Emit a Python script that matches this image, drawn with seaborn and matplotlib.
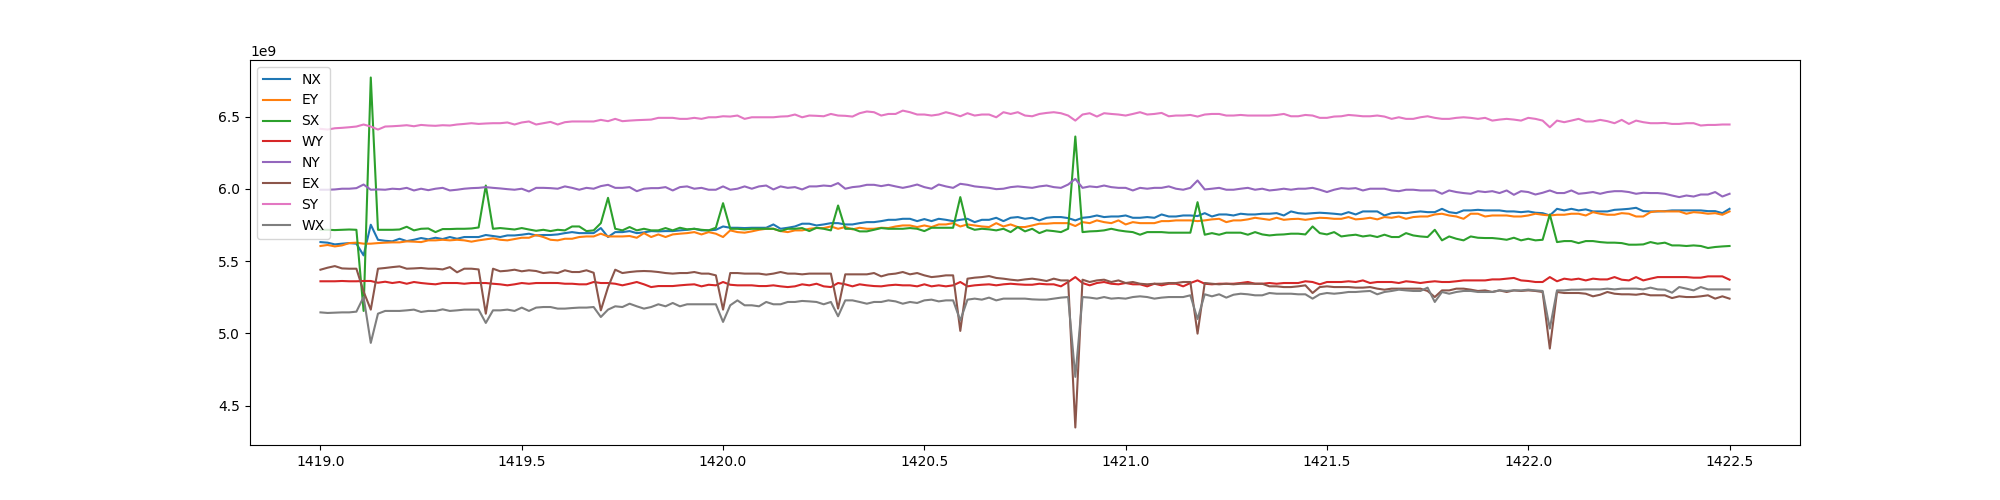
import numpy as np
import pandas as pd
import matplotlib
matplotlib.use("Agg")
import matplotlib.pyplot as plt
import seaborn as sns

labels = ['NX', 'EY', 'SX', 'WY', 'NY', 'EX', 'SY', 'WX']

# readings in units of 1e9, evenly sampled from 1419.0 to 1422.5
nx = [5.632, 5.628, 5.616, 5.621, 5.625, 5.621, 5.540, 5.752, 5.648, 5.641, 5.637, 5.655, 5.639, 5.648, 5.660, 5.651, 5.662, 5.653, 5.667, 5.655, 5.667, 5.667, 5.667, 5.681, 5.674, 5.667, 5.678, 5.678, 5.683, 5.690, 5.678, 5.681, 5.681,
      5.685, 5.694, 5.701, 5.694, 5.694, 5.694, 5.729, 5.667, 5.701, 5.701, 5.708, 5.694, 5.699, 5.708, 5.706, 5.708, 5.708, 5.713, 5.717, 5.724, 5.713, 5.713, 5.717, 5.740, 5.731, 5.731, 5.729, 5.731, 5.731, 5.731, 5.754, 5.724, 5.731,
      5.740, 5.759, 5.759, 5.747, 5.754, 5.763, 5.763, 5.754, 5.754, 5.763, 5.770, 5.770, 5.777, 5.786, 5.786, 5.793, 5.793, 5.777, 5.791, 5.777, 5.793, 5.786, 5.777, 5.786, 5.793, 5.770, 5.786, 5.786, 5.800, 5.777, 5.800, 5.805,
      5.793, 5.800, 5.782, 5.800, 5.805, 5.805, 5.798, 5.782, 5.800, 5.805, 5.816, 5.805, 5.809, 5.809, 5.816, 5.800, 5.800, 5.805, 5.800, 5.823, 5.809, 5.809, 5.816, 5.816, 5.812, 5.832, 5.809, 5.823, 5.823, 5.816, 5.828, 5.823, 5.823,
      5.828, 5.828, 5.832, 5.816, 5.844, 5.832, 5.828, 5.832, 5.835, 5.832, 5.828, 5.823, 5.839, 5.823, 5.844, 5.844, 5.844, 5.816, 5.832, 5.835, 5.832, 5.839, 5.844, 5.839, 5.839, 5.862, 5.839, 5.832, 5.851, 5.851, 5.855, 5.851, 5.851,
      5.851, 5.844, 5.844, 5.839, 5.844, 5.835, 5.832, 5.816, 5.862, 5.851, 5.862, 5.851, 5.858, 5.844, 5.844, 5.844, 5.855, 5.858, 5.862, 5.869, 5.846, 5.844, 5.844, 5.846, 5.851, 5.851, 5.851, 5.851, 5.851, 5.846, 5.846, 5.832, 5.862]

ey = [5.605, 5.612, 5.602, 5.609, 5.625, 5.628, 5.621, 5.621, 5.625, 5.628, 5.630, 5.630, 5.637, 5.635, 5.632, 5.644, 5.644, 5.648, 5.644, 5.648, 5.644, 5.635, 5.644, 5.651, 5.658, 5.648, 5.644, 5.653, 5.662, 5.662, 5.681, 5.667, 5.648,
      5.644, 5.655, 5.655, 5.667, 5.671, 5.671, 5.690, 5.671, 5.671, 5.671, 5.674, 5.662, 5.694, 5.667, 5.685, 5.667, 5.685, 5.690, 5.694, 5.701, 5.685, 5.701, 5.690, 5.667, 5.713, 5.701, 5.697, 5.706, 5.717, 5.724, 5.724, 5.708, 5.701,
      5.713, 5.713, 5.724, 5.729, 5.729, 5.740, 5.724, 5.736, 5.720, 5.731, 5.724, 5.724, 5.731, 5.729, 5.740, 5.747, 5.747, 5.736, 5.747, 5.736, 5.754, 5.754, 5.763, 5.740, 5.754, 5.747, 5.740, 5.736, 5.763, 5.740, 5.754, 5.736,
      5.736, 5.747, 5.759, 5.759, 5.763, 5.763, 5.763, 5.743, 5.770, 5.763, 5.782, 5.770, 5.763, 5.782, 5.754, 5.770, 5.763, 5.763, 5.763, 5.777, 5.777, 5.782, 5.782, 5.782, 5.777, 5.782, 5.789, 5.793, 5.770, 5.782, 5.782, 5.789, 5.800,
      5.793, 5.786, 5.800, 5.786, 5.791, 5.793, 5.786, 5.793, 5.800, 5.798, 5.793, 5.793, 5.805, 5.789, 5.793, 5.800, 5.789, 5.805, 5.800, 5.809, 5.793, 5.805, 5.809, 5.809, 5.823, 5.828, 5.816, 5.809, 5.793, 5.828, 5.828, 5.809, 5.816,
      5.816, 5.816, 5.809, 5.809, 5.816, 5.828, 5.821, 5.816, 5.821, 5.821, 5.828, 5.828, 5.816, 5.839, 5.828, 5.821, 5.821, 5.832, 5.828, 5.809, 5.809, 5.839, 5.846, 5.844, 5.844, 5.844, 5.828, 5.839, 5.835, 5.828, 5.832, 5.821, 5.844]

sx = [5.717, 5.717, 5.715, 5.717, 5.719, 5.717, 5.156, 6.770, 5.717, 5.717, 5.717, 5.719, 5.738, 5.713, 5.724, 5.726, 5.701, 5.722, 5.722, 5.724, 5.724, 5.726, 5.733, 6.023, 5.724, 5.729, 5.724, 5.719, 5.729, 5.719, 5.710, 5.717, 5.708,
      5.717, 5.713, 5.740, 5.740, 5.708, 5.713, 5.763, 5.938, 5.724, 5.713, 5.736, 5.713, 5.724, 5.713, 5.713, 5.729, 5.713, 5.731, 5.720, 5.724, 5.717, 5.713, 5.731, 5.901, 5.724, 5.724, 5.720, 5.724, 5.724, 5.724, 5.724, 5.708, 5.724,
      5.724, 5.729, 5.708, 5.731, 5.724, 5.713, 5.885, 5.724, 5.724, 5.706, 5.706, 5.717, 5.729, 5.724, 5.724, 5.724, 5.729, 5.724, 5.708, 5.731, 5.731, 5.731, 5.731, 5.943, 5.736, 5.717, 5.724, 5.720, 5.713, 5.724, 5.701, 5.736,
      5.706, 5.724, 5.694, 5.713, 5.708, 5.701, 5.724, 6.362, 5.701, 5.706, 5.708, 5.713, 5.724, 5.713, 5.706, 5.701, 5.683, 5.701, 5.701, 5.701, 5.697, 5.697, 5.697, 5.697, 5.908, 5.683, 5.694, 5.683, 5.697, 5.697, 5.697, 5.683, 5.701,
      5.685, 5.678, 5.683, 5.685, 5.690, 5.690, 5.685, 5.740, 5.694, 5.685, 5.701, 5.671, 5.678, 5.683, 5.671, 5.678, 5.667, 5.683, 5.667, 5.667, 5.694, 5.678, 5.671, 5.667, 5.717, 5.644, 5.671, 5.655, 5.644, 5.671, 5.662, 5.660, 5.660,
      5.655, 5.648, 5.662, 5.644, 5.655, 5.644, 5.648, 5.823, 5.632, 5.639, 5.639, 5.625, 5.639, 5.639, 5.632, 5.628, 5.628, 5.625, 5.614, 5.614, 5.616, 5.632, 5.621, 5.628, 5.609, 5.609, 5.605, 5.609, 5.605, 5.591, 5.598, 5.602, 5.605]

wy = [5.361, 5.361, 5.361, 5.363, 5.361, 5.361, 5.363, 5.363, 5.351, 5.358, 5.349, 5.356, 5.344, 5.356, 5.349, 5.344, 5.340, 5.349, 5.349, 5.349, 5.344, 5.349, 5.349, 5.349, 5.344, 5.340, 5.333, 5.340, 5.349, 5.344, 5.349, 5.349, 5.349,
      5.349, 5.344, 5.344, 5.340, 5.340, 5.356, 5.349, 5.349, 5.344, 5.333, 5.344, 5.356, 5.340, 5.321, 5.328, 5.328, 5.328, 5.333, 5.337, 5.340, 5.326, 5.337, 5.333, 5.356, 5.337, 5.333, 5.333, 5.333, 5.328, 5.328, 5.333, 5.326, 5.321,
      5.326, 5.340, 5.333, 5.344, 5.326, 5.321, 5.349, 5.340, 5.326, 5.340, 5.333, 5.328, 5.326, 5.333, 5.337, 5.333, 5.333, 5.326, 5.340, 5.326, 5.333, 5.326, 5.333, 5.356, 5.326, 5.333, 5.337, 5.340, 5.333, 5.340, 5.344, 5.340,
      5.337, 5.337, 5.344, 5.340, 5.340, 5.326, 5.356, 5.390, 5.349, 5.333, 5.349, 5.356, 5.344, 5.340, 5.349, 5.340, 5.340, 5.326, 5.344, 5.333, 5.344, 5.344, 5.326, 5.349, 5.367, 5.344, 5.340, 5.344, 5.344, 5.344, 5.349, 5.356, 5.344,
      5.344, 5.349, 5.344, 5.349, 5.349, 5.349, 5.361, 5.356, 5.340, 5.356, 5.356, 5.356, 5.361, 5.356, 5.367, 5.349, 5.356, 5.356, 5.356, 5.349, 5.361, 5.356, 5.349, 5.356, 5.361, 5.356, 5.356, 5.361, 5.367, 5.367, 5.367, 5.367, 5.374,
      5.374, 5.379, 5.384, 5.367, 5.363, 5.356, 5.356, 5.390, 5.361, 5.379, 5.372, 5.379, 5.367, 5.379, 5.374, 5.374, 5.390, 5.372, 5.367, 5.390, 5.367, 5.379, 5.390, 5.390, 5.390, 5.390, 5.390, 5.386, 5.386, 5.395, 5.395, 5.395, 5.372]

ny = [5.994, 5.994, 5.996, 6.001, 6.001, 6.005, 6.030, 5.994, 5.996, 5.994, 6.001, 5.998, 6.007, 5.989, 6.001, 5.991, 6.001, 6.007, 5.989, 5.994, 6.001, 6.005, 6.007, 6.012, 6.007, 6.003, 5.998, 5.994, 6.001, 5.982, 6.007, 6.007, 6.005,
      6.001, 6.017, 6.007, 5.994, 6.007, 6.001, 6.019, 6.028, 6.007, 6.007, 6.012, 5.984, 6.001, 6.005, 6.005, 6.012, 5.989, 6.012, 6.017, 6.001, 6.007, 5.994, 5.994, 6.017, 5.994, 6.001, 6.017, 6.001, 6.017, 6.023, 5.996, 6.017, 6.007,
      6.012, 5.996, 6.017, 6.017, 6.023, 6.019, 6.040, 6.001, 6.012, 6.017, 6.028, 6.028, 6.019, 6.028, 6.017, 6.007, 6.017, 6.030, 6.012, 6.001, 6.030, 6.017, 6.007, 6.035, 6.028, 6.017, 6.012, 6.007, 5.998, 6.001, 6.012, 6.017,
      6.012, 6.007, 6.017, 6.023, 6.012, 6.007, 6.030, 6.069, 6.007, 6.017, 6.012, 6.023, 6.012, 6.007, 6.007, 5.989, 6.007, 6.001, 6.007, 6.007, 6.017, 6.001, 5.994, 6.007, 6.058, 5.996, 6.001, 6.007, 5.994, 5.994, 6.001, 6.007, 5.994,
      6.001, 5.989, 5.994, 6.001, 5.994, 6.001, 6.001, 6.007, 5.994, 5.978, 5.994, 6.005, 6.001, 6.005, 5.989, 6.001, 6.001, 6.001, 5.989, 5.984, 5.994, 5.994, 5.989, 5.989, 5.989, 5.966, 5.989, 5.978, 5.971, 5.966, 5.984, 5.978, 5.984,
      5.971, 5.989, 5.959, 5.984, 5.978, 5.961, 5.973, 5.989, 5.971, 5.971, 5.989, 5.966, 5.971, 5.978, 5.966, 5.978, 5.984, 5.984, 5.978, 5.966, 5.973, 5.971, 5.971, 5.966, 5.954, 5.943, 5.954, 5.947, 5.961, 5.961, 5.978, 5.947, 5.966]

ex = [5.441, 5.455, 5.466, 5.450, 5.448, 5.448, 5.290, 5.165, 5.448, 5.453, 5.459, 5.464, 5.448, 5.450, 5.453, 5.448, 5.448, 5.443, 5.459, 5.423, 5.448, 5.448, 5.443, 5.137, 5.448, 5.430, 5.434, 5.441, 5.430, 5.437, 5.432, 5.418, 5.423,
      5.418, 5.437, 5.425, 5.425, 5.437, 5.420, 5.160, 5.320, 5.441, 5.418, 5.425, 5.430, 5.432, 5.430, 5.425, 5.418, 5.414, 5.418, 5.418, 5.425, 5.414, 5.414, 5.402, 5.165, 5.418, 5.418, 5.414, 5.414, 5.414, 5.407, 5.414, 5.425, 5.414,
      5.414, 5.409, 5.414, 5.414, 5.414, 5.414, 5.172, 5.409, 5.409, 5.409, 5.409, 5.418, 5.395, 5.409, 5.414, 5.425, 5.409, 5.418, 5.402, 5.390, 5.395, 5.402, 5.402, 5.018, 5.379, 5.386, 5.390, 5.397, 5.384, 5.379, 5.372, 5.367,
      5.374, 5.379, 5.372, 5.363, 5.379, 5.367, 5.367, 4.350, 5.372, 5.356, 5.367, 5.372, 5.356, 5.367, 5.349, 5.356, 5.344, 5.340, 5.344, 5.344, 5.349, 5.349, 5.356, 5.356, 4.999, 5.349, 5.344, 5.340, 5.344, 5.340, 5.344, 5.344, 5.344,
      5.344, 5.326, 5.326, 5.321, 5.321, 5.326, 5.333, 5.280, 5.321, 5.326, 5.321, 5.321, 5.321, 5.317, 5.317, 5.321, 5.310, 5.303, 5.310, 5.310, 5.310, 5.310, 5.310, 5.294, 5.252, 5.298, 5.298, 5.310, 5.310, 5.303, 5.294, 5.298, 5.287,
      5.298, 5.287, 5.298, 5.294, 5.298, 5.294, 5.287, 4.896, 5.287, 5.280, 5.280, 5.280, 5.275, 5.257, 5.268, 5.287, 5.275, 5.271, 5.271, 5.268, 5.275, 5.264, 5.264, 5.264, 5.245, 5.257, 5.252, 5.252, 5.257, 5.264, 5.241, 5.257, 5.241]

sy = [6.415, 6.410, 6.419, 6.422, 6.426, 6.431, 6.445, 6.431, 6.410, 6.431, 6.433, 6.436, 6.440, 6.433, 6.442, 6.438, 6.436, 6.440, 6.438, 6.445, 6.449, 6.454, 6.449, 6.452, 6.454, 6.454, 6.459, 6.445, 6.459, 6.466, 6.445, 6.454, 6.463,
      6.445, 6.461, 6.466, 6.466, 6.466, 6.466, 6.477, 6.468, 6.484, 6.468, 6.472, 6.475, 6.477, 6.479, 6.491, 6.491, 6.491, 6.484, 6.484, 6.491, 6.484, 6.495, 6.495, 6.502, 6.500, 6.507, 6.484, 6.495, 6.495, 6.495, 6.495, 6.500, 6.502,
      6.514, 6.495, 6.507, 6.505, 6.502, 6.518, 6.507, 6.505, 6.500, 6.523, 6.535, 6.530, 6.507, 6.518, 6.518, 6.541, 6.530, 6.514, 6.514, 6.507, 6.514, 6.530, 6.518, 6.502, 6.523, 6.507, 6.514, 6.514, 6.495, 6.530, 6.518, 6.530,
      6.507, 6.502, 6.518, 6.525, 6.530, 6.523, 6.507, 6.472, 6.514, 6.523, 6.500, 6.523, 6.518, 6.514, 6.507, 6.518, 6.530, 6.514, 6.518, 6.525, 6.502, 6.507, 6.507, 6.511, 6.500, 6.514, 6.518, 6.518, 6.507, 6.507, 6.511, 6.507, 6.507,
      6.507, 6.507, 6.511, 6.518, 6.502, 6.502, 6.511, 6.507, 6.491, 6.491, 6.500, 6.502, 6.511, 6.507, 6.502, 6.502, 6.507, 6.500, 6.484, 6.495, 6.484, 6.484, 6.495, 6.502, 6.491, 6.484, 6.484, 6.491, 6.495, 6.491, 6.484, 6.491, 6.472,
      6.479, 6.484, 6.479, 6.472, 6.491, 6.484, 6.472, 6.426, 6.472, 6.461, 6.472, 6.484, 6.466, 6.466, 6.477, 6.468, 6.454, 6.477, 6.449, 6.472, 6.461, 6.454, 6.454, 6.456, 6.449, 6.449, 6.454, 6.454, 6.438, 6.442, 6.442, 6.445, 6.445]

wx = [5.146, 5.142, 5.144, 5.146, 5.146, 5.151, 5.252, 4.935, 5.137, 5.156, 5.156, 5.156, 5.160, 5.165, 5.149, 5.156, 5.156, 5.167, 5.156, 5.160, 5.165, 5.165, 5.165, 5.073, 5.160, 5.160, 5.165, 5.156, 5.179, 5.156, 5.179, 5.183, 5.183,
      5.172, 5.172, 5.176, 5.179, 5.179, 5.183, 5.114, 5.165, 5.188, 5.183, 5.206, 5.188, 5.172, 5.183, 5.202, 5.188, 5.211, 5.188, 5.202, 5.202, 5.202, 5.202, 5.202, 5.080, 5.195, 5.229, 5.195, 5.195, 5.188, 5.218, 5.202, 5.202, 5.218,
      5.218, 5.225, 5.222, 5.218, 5.202, 5.218, 5.119, 5.229, 5.229, 5.218, 5.206, 5.218, 5.218, 5.229, 5.222, 5.206, 5.218, 5.211, 5.229, 5.234, 5.222, 5.229, 5.229, 5.090, 5.234, 5.241, 5.234, 5.248, 5.229, 5.241, 5.241, 5.241,
      5.241, 5.236, 5.234, 5.234, 5.241, 5.248, 5.252, 4.700, 5.252, 5.248, 5.241, 5.252, 5.241, 5.245, 5.241, 5.252, 5.257, 5.252, 5.241, 5.248, 5.252, 5.252, 5.252, 5.264, 5.100, 5.271, 5.257, 5.271, 5.248, 5.268, 5.275, 5.271, 5.264,
      5.264, 5.280, 5.275, 5.275, 5.275, 5.271, 5.271, 5.241, 5.271, 5.280, 5.275, 5.280, 5.287, 5.287, 5.291, 5.294, 5.271, 5.287, 5.294, 5.303, 5.298, 5.294, 5.294, 5.317, 5.218, 5.287, 5.275, 5.287, 5.294, 5.294, 5.287, 5.287, 5.287,
      5.298, 5.294, 5.298, 5.298, 5.303, 5.298, 5.294, 5.034, 5.298, 5.298, 5.303, 5.303, 5.305, 5.305, 5.305, 5.310, 5.305, 5.310, 5.310, 5.310, 5.305, 5.317, 5.305, 5.303, 5.282, 5.321, 5.310, 5.298, 5.321, 5.305, 5.305, 5.305, 5.305]

x_start, x_end = 1419.0, 1422.5

series = dict(zip(labels, [nx, ey, sx, wy, ny, ex, sy, wx]))
df = pd.DataFrame({k: np.array(v) * 1e9 for k, v in series.items()})
df['t'] = np.linspace(x_start, x_end, len(df))
long_df = df.melt(id_vars='t', var_name='channel', value_name='value')

fig, ax = plt.subplots(figsize=(20, 5), dpi=100)
sns.lineplot(data=long_df, x='t', y='value', hue='channel', hue_order=labels,
             palette='tab10', estimator=None, ax=ax)
ax.set(xlabel='', ylabel='')
sns.move_legend(ax, 'upper left', title=None)

fig.savefig('out.png')
